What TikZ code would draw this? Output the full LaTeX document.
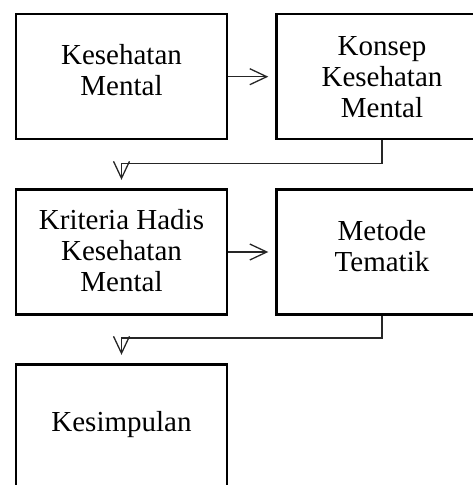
\documentclass[tikz,border=0pt]{standalone}
\usepackage{fontspec}
\setmainfont{Liberation Serif}
\usetikzlibrary{arrows.meta}
\tikzset{
  box/.style={draw=black, line width=2.4pt, rectangle, minimum width=211pt, minimum height=125pt, inner sep=0pt},
  lbl/.style={align=center, anchor=base, inner sep=0pt, font=\fontsize{29}{31}\selectfont},
  arr/.style={draw=black!85, line width=1.3pt, -{Straight Barb[length=17pt, width=16pt]}}
}
\begin{document}
\begin{tikzpicture}[x=1pt, y=-1pt]
\useasboundingbox (0,0) rectangle (473,485);
\clip (0,0) rectangle (473,485);
\node[box] (b1) at (121.5,76.7) {};
\node[box] (b2) at (382,76.7) {};
\node[box] (b3) at (121.5,252) {};
\node[box] (b4) at (382,252) {};
\node[box] (b5) at (121.5,426.8) {};
\node[lbl] (t1) at (121.5,95.7) {Kesehatan\\Mental};
\node[lbl] (t2) at (382,117) {Konsep\\Kesehatan\\Mental};
\node[lbl] (t3) at (121.5,291.7) {Kriteria Hadis\\Kesehatan\\Mental};
\node[lbl] (t4) at (382,271) {Metode\\Tematik};
\node[lbl] (t5) at (121.5,431.7) {Kesimpulan};
\draw[arr, shorten >=7pt] (b1.east) -- (b2.west);
\draw[arr, shorten >=7pt] (b3.east) -- (b4.west);
\draw[arr, shorten >=8.5pt] (b2.south) |- ([yshift=25pt]b3.north) -- (b3.north);
\draw[arr, shorten >=8.3pt] (b4.south) |- ([yshift=25pt]b5.north) -- (b5.north);
\end{tikzpicture}
\end{document}
